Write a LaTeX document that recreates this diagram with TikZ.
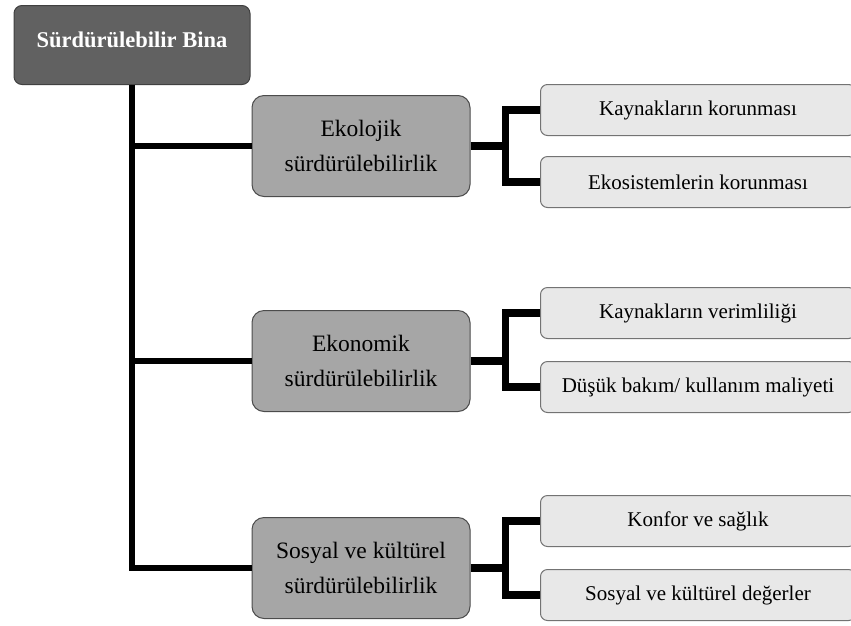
\documentclass[tikz,border=0pt]{standalone}
\usepackage{fontspec}
\setmainfont{Liberation Serif}[Ligatures=TeX]
\newfontfamily\tnr{Liberation Serif}
\usepackage{tikz}

\begin{document}
\begin{tikzpicture}[
      x=1pt, y=-1pt,
      inner sep=0pt,
      top/.style={draw=black!75, fill=black!62, rounded corners=8pt, line width=1pt,
        minimum width=236pt, text height=42pt, text depth=37pt, text=white,
        font=\tnr\fontsize{22.5}{26}\selectfont\bfseries},
      mid/.style={draw=black!70, fill=black!35, rounded corners=12pt, line width=1pt,
        minimum width=218pt, minimum height=101pt, align=center,
        font=\tnr\fontsize{23.5}{35}\selectfont},
      leaf/.style={draw=black!55, fill=black!9, rounded corners=7pt, line width=1pt,
        minimum width=315pt, minimum height=51pt, anchor=west,
        font=\tnr\fontsize{21}{24}\selectfont},
      trunk/.style={line width=6pt, line join=miter},
      fork/.style={line width=7.5pt, line join=miter}
    ]
    \clip (0,0) rectangle (851,625);
    \node (bina) [top, anchor=north] at (132,5) {Sürdürülebilir Bina};
    \node (eko) [mid] at (361,146) {Ekolojik\\sürdürülebilirlik};
    \node (ekn) [mid] at (361,361) {Ekonomik\\sürdürülebilirlik};
    \node (sos) [mid] at (361,568) {Sosyal ve kültürel\\sürdürülebilirlik};
    \node (eko1) [leaf] at (540,110) {Kaynakların korunması};
    \node (eko2) [leaf] at (540,182) {Ekosistemlerin korunması};
    \node (ekn1) [leaf] at (540,313) {Kaynakların verimliliği};
    \node (ekn2) [leaf] at (540,387) {Düşük bakım/ kullanım maliyeti};
    \node (sos1) [leaf] at (540,521) {Konfor ve sağlık};
    \node (sos2) [leaf] at (540,595) {Sosyal ve kültürel değerler};
    \draw[trunk] (bina.south) |- (sos.west);
    \draw[trunk] (bina.south |- eko.west) -- (eko.west);
    \draw[trunk] (bina.south |- ekn.west) -- (ekn.west);
    \draw[fork] (eko.east) -- ++(35,0) coordinate (ekoj);
    \draw[fork] (eko1.west) -| (ekoj) |- (eko2.west);
    \draw[fork] (ekn.east) -- ++(35,0) coordinate (eknj);
    \draw[fork] (ekn1.west) -| (eknj) |- (ekn2.west);
    \draw[fork] (sos.east) -- ++(35,0) coordinate (sosj);
    \draw[fork] (sos1.west) -| (sosj) |- (sos2.west);
  \end{tikzpicture}
\end{document}
